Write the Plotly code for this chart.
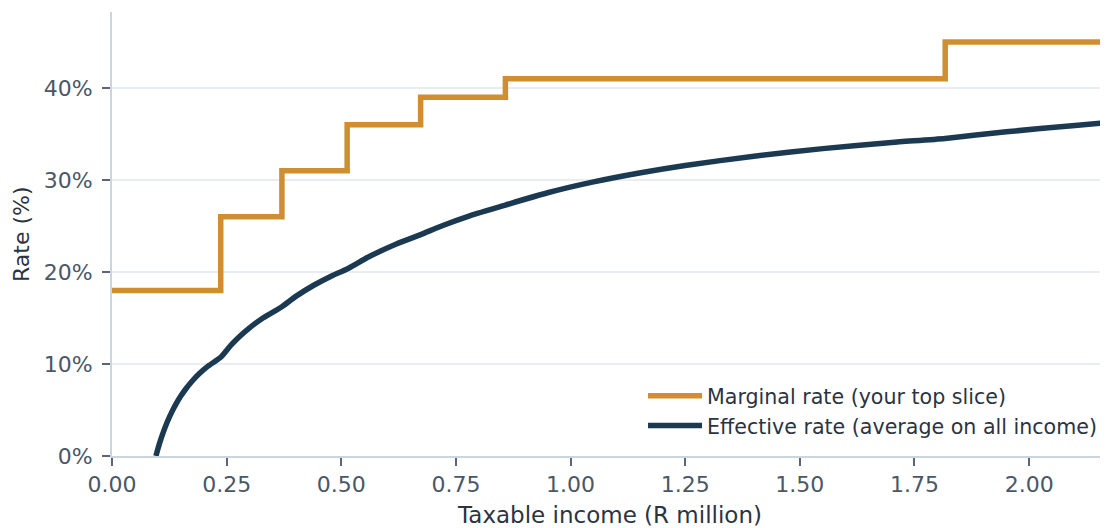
import plotly.graph_objects as go

# Marginal rate brackets (R million thresholds, %)
bracket_start = [0.0, 0.2371, 0.3705, 0.5128, 0.673, 0.8579, 1.817, 2.2]
marginal_rate = [18, 26, 31, 36, 39, 41, 45, 45]

# Effective rate curve (R million, %)
eff_income = [0.0958, 0.10, 0.105, 0.11, 0.12, 0.13, 0.14, 0.15, 0.16, 0.175, 0.19, 0.21,
              0.2371, 0.26, 0.28, 0.30, 0.33, 0.3705, 0.40, 0.44, 0.48, 0.5128, 0.56, 0.62,
              0.673, 0.72, 0.78, 0.8579, 0.95, 1.05, 1.15, 1.25, 1.40, 1.55, 1.70, 1.817,
              1.95, 2.10, 2.20]
eff_rate = [0.0, 0.77, 1.59, 2.33, 3.64, 4.74, 5.69, 6.51, 7.23, 8.15, 8.93, 9.79,
            10.73, 12.08, 13.07, 13.93, 15.03, 16.23, 17.32, 18.56, 19.60, 20.33, 21.65, 23.04,
            24.06, 25.03, 26.11, 27.28, 28.61, 29.79, 30.76, 31.58, 32.59, 33.41, 34.08, 34.52,
            35.24, 35.93, 36.35]

ORANGE = "#CF8F30"
NAVY = "#1B3A52"
AXIS = "#CBD5E1"
GRID = "#E8EDF2"
TICKTXT = "#4A5766"
TITLETXT = "#2B3440"

fig = go.Figure()
fig.add_trace(go.Scatter(x=bracket_start, y=marginal_rate, mode="lines", line_shape="hv",
                         line=dict(color=ORANGE, width=5.5),
                         name="Marginal rate (your top slice)"))
fig.add_trace(go.Scatter(x=eff_income, y=eff_rate, mode="lines", line_shape="spline",
                         line=dict(color=NAVY, width=5.5, smoothing=0.6),
                         name="Effective rate (average on all income)"))

fig.update_layout(
    width=1100, height=520,
    margin=dict(l=104, r=0, t=4, b=72),
    paper_bgcolor="white", plot_bgcolor="white",
    font=dict(family="DejaVu Sans", color=TITLETXT),
    showlegend=True,
    legend=dict(x=0.994, y=0.023, xanchor="right", yanchor="bottom",
                bgcolor="rgba(255,255,255,0)", font=dict(size=20.6, color=TITLETXT),
                itemwidth=54, tracegroupgap=0),
    annotations=[dict(text="Rate (%)", textangle=-90, xref="paper", yref="paper",
                      x=-0.0914, y=0.5, xanchor="center", yanchor="middle", showarrow=False,
                      font=dict(size=22, color=TITLETXT))],
)
fig.update_xaxes(range=[0, 2.172], dtick=0.25, tick0=0, tickformat=".2f",
                 showgrid=False, zeroline=False, showline=True, linecolor=AXIS, linewidth=2,
                 ticks="outside", ticklen=8, tickcolor="#5A6675", tickwidth=1.5,
                 tickfont=dict(size=22, color=TICKTXT),
                 title=dict(text="Taxable income (R million)", font=dict(size=23, color=TITLETXT), standoff=12))
fig.update_yaxes(range=[0, 48.26], dtick=10, tick0=0, ticksuffix="%",
                 showgrid=True, gridcolor=GRID, gridwidth=2, zeroline=False,
                 showline=True, linecolor=AXIS, linewidth=2,
                 ticks="outside", ticklen=8, tickcolor="#5A6675", tickwidth=1.5,
                 ticklabelstandoff=5,
                 tickfont=dict(size=22, color=TICKTXT))

fig.write_html("out.html")
